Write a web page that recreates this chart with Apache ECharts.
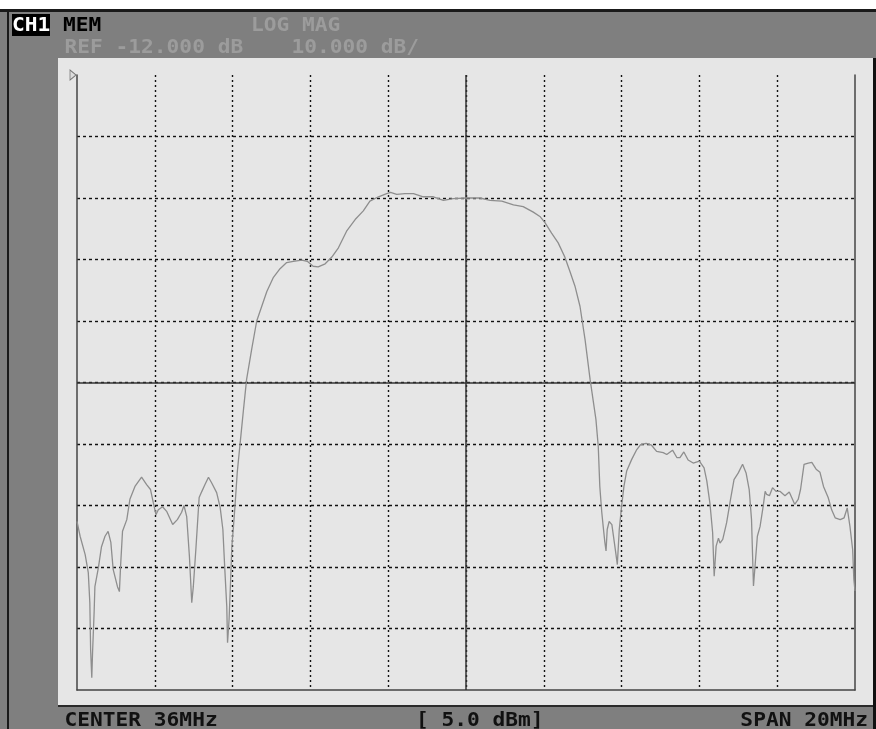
<!DOCTYPE html>
<html>
<head>
<meta charset="utf-8">
<script src="https://cdn.jsdelivr.net/npm/echarts@6/dist/echarts.min.js"></script>
<style>
  html, body { margin: 0; padding: 0; background: #7f7f7f; }
  #chart { width: 876px; height: 729px; }
</style>
</head>
<body>
<div id="chart"></div>
<script>
// ---- Instrument settings / labels ----
const REF_DB = -12;          // reference level (top graticule line)
const SCALE_DB = 10;         // dB per division
const CENTER_MHZ = 36;
const SPAN_MHZ = 20;
const SOURCE_DBM = 5.0;
const HEADER_LABELS = ['CH1', 'MEM', 'LOG MAG'];

// ---- Trace (frequency in MHz, level in dB) ----
const FREQ_MHZ = [
  26.00, 26.08, 26.21, 26.29, 26.33, 26.35, 26.38, 26.40, 26.44, 26.46,
  26.55, 26.63, 26.72, 26.80, 26.87, 26.93, 27.04, 27.09, 27.12, 27.17,
  27.28, 27.36, 27.49, 27.66, 27.79, 27.89, 27.96, 28.03, 28.09, 28.20,
  28.31, 28.46, 28.58, 28.69, 28.75, 28.82, 28.89, 28.95, 28.99, 29.06,
  29.14, 29.21, 29.29, 29.38, 29.46, 29.59, 29.68, 29.75, 29.80, 29.85,
  29.87, 29.91, 29.95, 29.98, 30.02, 30.06, 30.12, 30.19, 30.28, 30.36,
  30.49, 30.62, 30.75, 30.88, 31.05, 31.22, 31.39, 31.56, 31.78, 31.92,
  32.07, 32.20, 32.38, 32.55, 32.72, 32.93, 33.15, 33.36, 33.53, 33.75,
  33.96, 34.06, 34.22, 34.43, 34.65, 34.90, 35.16, 35.42, 35.67, 36.02,
  36.36, 36.62, 36.92, 37.22, 37.47, 37.73, 37.90, 38.03, 38.20, 38.37,
  38.54, 38.67, 38.80, 38.93, 39.06, 39.19, 39.34, 39.40, 39.44, 39.49,
  39.53, 39.57, 39.60, 39.63, 39.68, 39.75, 39.80, 39.85, 39.89, 39.94,
  40.00, 40.06, 40.13, 40.26, 40.39, 40.49, 40.63, 40.77, 40.90, 41.07,
  41.16, 41.31, 41.42, 41.50, 41.60, 41.71, 41.84, 42.00, 42.12, 42.19,
  42.27, 42.34, 42.38, 42.43, 42.49, 42.53, 42.60, 42.70, 42.80, 42.89,
  43.00, 43.11, 43.20, 43.28, 43.34, 43.39, 43.43, 43.49, 43.56, 43.64,
  43.69, 43.73, 43.80, 43.88, 43.97, 44.07, 44.20, 44.31, 44.45, 44.54,
  44.60, 44.69, 44.80, 44.89, 45.00, 45.10, 45.19, 45.31, 45.40, 45.49,
  45.62, 45.72, 45.80, 45.87, 45.94, 45.97, 46.00
];
const LEVEL_DB = [
  -84.6, -87.0, -90.0, -92.9, -97.8, -105.4, -110.0, -105.9, -99.4, -95.2,
  -92.1, -88.7, -87.0, -86.2, -88.0, -92.4, -95.2, -96.0, -91.9, -86.2,
  -84.3, -81.0, -78.9, -77.4, -78.6, -79.4, -81.5, -83.5, -82.7, -82.2,
  -83.0, -85.1, -84.3, -83.1, -82.0, -83.8, -90.3, -97.8, -95.2, -88.7,
  -80.7, -79.7, -78.6, -77.4, -78.3, -79.9, -82.3, -85.9, -92.4, -98.4,
  -104.3, -100.5, -94.0, -88.7, -85.6, -82.2, -76.6, -72.1, -66.4, -61.5,
  -56.6, -52.0, -49.6, -47.2, -44.9, -43.5, -42.5, -42.3, -42.1, -42.3,
  -43.1, -43.2, -42.7, -41.6, -40.1, -37.4, -35.5, -34.1, -32.5, -31.8,
  -31.3, -31.1, -31.4, -31.3, -31.3, -31.8, -31.8, -32.4, -32.1, -32.0,
  -32.0, -32.4, -32.5, -33.1, -33.4, -34.3, -35.0, -36.0, -37.7, -39.3,
  -41.6, -43.9, -46.3, -49.6, -55.0, -61.5, -68.0, -72.4, -78.9, -83.1,
  -85.6, -88.0, -89.4, -85.9, -84.6, -85.1, -85.4, -89.7, -91.6, -85.9,
  -82.1, -78.9, -76.4, -74.5, -72.9, -72.1, -71.9, -72.2, -73.2, -73.4,
  -73.7, -73.0, -74.2, -74.2, -73.3, -74.6, -75.1, -74.8, -75.9, -78.0,
  -81.6, -86.4, -93.5, -88.6, -87.3, -88.1, -87.5, -84.8, -81.0, -77.8,
  -76.7, -75.3, -76.7, -79.4, -84.3, -95.1, -91.9, -87.0, -85.4, -82.1,
  -79.7, -80.2, -80.4, -79.1, -79.7, -79.7, -80.4, -79.8, -81.8, -81.0,
  -79.4, -75.3, -75.1, -75.0, -76.1, -76.6, -78.9, -80.7, -82.7, -84.0,
  -84.3, -84.0, -82.4, -85.4, -89.2, -94.0, -95.9
];

// y axis is expressed relative to the reference level (0 = REF line)
const points = FREQ_MHZ.map((f, i) => [f, LEVEL_DB[i] - REF_DB]);

const FONT = '"DejaVu Sans Mono", "Liberation Mono", monospace';
function txt(text, x, y, color, align) {
  return {
    type: 'text', x: x, y: y, scaleX: 1.06, z: 100,
    style: {
      text: text, x: 0, y: 0, fill: color,
      font: 'bold 20px ' + FONT,
      align: align || 'left', verticalAlign: 'middle'
    }
  };
}

const chart = echarts.init(document.getElementById('chart'), null, { renderer: 'canvas' });
chart.setOption({
  animation: false,
  backgroundColor: '#7f7f7f',
  graphic: [
    { type: 'rect', z: -100, shape: { x: 0, y: 0, width: 876, height: 9 }, style: { fill: '#ffffff' } },
    { type: 'rect', z: -100, shape: { x: 0, y: 9, width: 876, height: 3 }, style: { fill: '#1a1a1a' } },
    { type: 'rect', z: -100, shape: { x: 7, y: 12, width: 2, height: 717 }, style: { fill: '#1a1a1a' } },
    { type: 'rect', z: -100, shape: { x: 58, y: 58, width: 815, height: 647 }, style: { fill: '#e6e6e6' } },
    { type: 'rect', z: -100, shape: { x: 58, y: 705, width: 815, height: 2 }, style: { fill: '#2a2a2a' } },
    { type: 'rect', z: -100, shape: { x: 873, y: 58, width: 3, height: 671 }, style: { fill: '#111111' } },
    { type: 'rect', z: 90, shape: { x: 12, y: 14, width: 38, height: 22 }, style: { fill: '#000000' } },
    txt(HEADER_LABELS[0], 12, 25.5, '#ffffff'),
    txt(HEADER_LABELS[1], 63, 25.5, '#000000'),
    txt(HEADER_LABELS[2], 251, 25.5, '#9c9c9c'),
    txt('REF ' + REF_DB.toFixed(3) + ' dB', 64.5, 48, '#9c9c9c'),
    txt(SCALE_DB.toFixed(3) + ' dB/', 291.5, 48, '#9c9c9c'),
    txt('CENTER ' + CENTER_MHZ + 'MHz', 64.5, 720.5, '#111111'),
    txt('[ ' + SOURCE_DBM.toFixed(1) + ' dBm]', 416, 720.5, '#111111'),
    txt('SPAN ' + SPAN_MHZ + 'MHz', 868, 720.5, '#111111', 'right')
  ],
  grid: { left: 77, right: 21, top: 75, bottom: 39, containLabel: false },
  xAxis: {
    type: 'value',
    min: CENTER_MHZ - SPAN_MHZ / 2, max: CENTER_MHZ + SPAN_MHZ / 2, interval: SPAN_MHZ / 10,
    axisLine: { show: true, onZero: false, lineStyle: { color: '#444', width: 1.5 } },
    axisTick: { show: false }, axisLabel: { show: false },
    splitLine: { show: true, showMinLine: false, showMaxLine: false,
      lineStyle: { color: '#111', width: 1.4, type: [2, 3] } }
  },
  yAxis: [{
    type: 'value', min: -10 * SCALE_DB, max: 0, interval: SCALE_DB,
    axisLine: { show: true, onZero: false, lineStyle: { color: '#444', width: 1.5 } },
    axisTick: { show: false }, axisLabel: { show: false },
    splitLine: { show: true, showMinLine: false, showMaxLine: false,
      lineStyle: { color: '#111', width: 1.4, type: [3, 3] } }
  }, {
    type: 'value', position: 'right', min: -10 * SCALE_DB, max: 0, interval: SCALE_DB,
    axisLine: { show: true, onZero: false, lineStyle: { color: '#444', width: 1.5 } },
    axisTick: { show: false }, axisLabel: { show: false }, splitLine: { show: false }
  }],
  series: [{
    type: 'line', yAxisIndex: 0, data: points, showSymbol: false, smooth: false,
    lineStyle: { color: '#8e8e8e', width: 1.3 },
    z: 5,
    markLine: {
      silent: true, symbol: ['none', 'none'], label: { show: false },
      lineStyle: { color: '#333', width: 1.5, type: 'solid' },
      data: [{ xAxis: CENTER_MHZ }, { yAxis: -5 * SCALE_DB }]
    },
    markPoint: {
      silent: true, label: { show: false },
      symbol: 'path://M0,0 L9,6 L0,12 Z', symbolSize: [6, 10], symbolOffset: [-4, 0],
      itemStyle: { color: '#dcdcdc', borderColor: '#777', borderWidth: 1 },
      data: [{ coord: [CENTER_MHZ - SPAN_MHZ / 2, 0] }]
    }
  }]
});
</script>
</body>
</html>
